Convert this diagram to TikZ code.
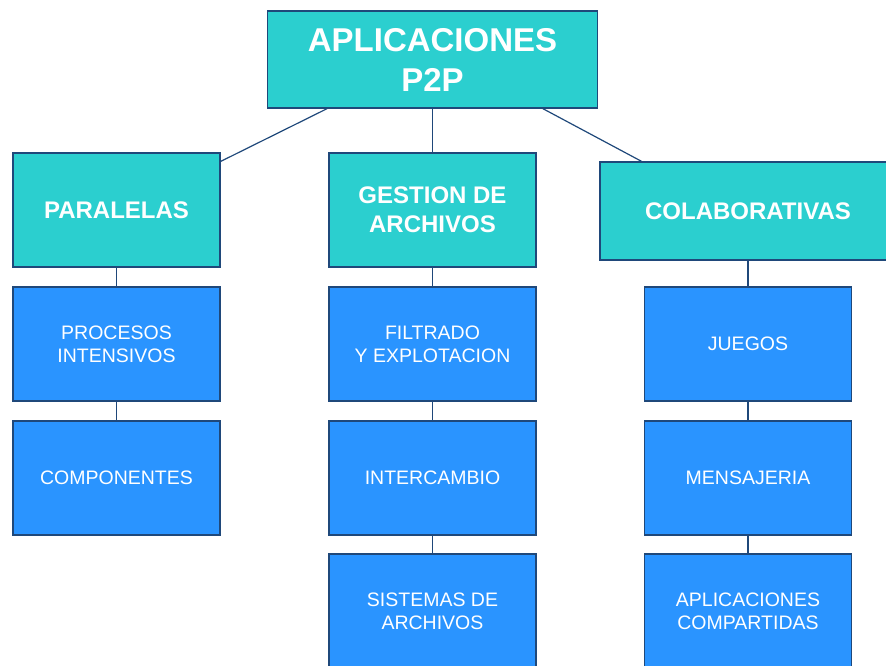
\documentclass[tikz,border=0pt]{standalone}
\usepackage{fontspec}
\setmainfont{Liberation Sans}
\definecolor{tealbox}{RGB}{43,207,207}
\definecolor{bluebox}{RGB}{42,148,255}
\definecolor{edgeline}{RGB}{31,72,122}
\begin{document}
\begin{tikzpicture}
  [x=1pt,y=-1pt,
   box/.style={rectangle,draw=edgeline,line width=1.2pt,text=white,align=center,inner sep=0pt,minimum width=207pt,minimum height=114pt},
   root/.style={box,fill=tealbox,minimum width=330pt,minimum height=97pt,font=\fontsize{33}{40}\selectfont\bfseries},
   group/.style={box,fill=tealbox,font=\fontsize{24}{29}\selectfont\bfseries},
   leaf/.style={box,fill=bluebox,font=\fontsize{19.5}{23}\selectfont}]
  \clip (0,0) rectangle (886,666);
  \node[root] (app) at (432.5,59.5) {APLICACIONES\\P2P};
  \node[group] (par) at (116.5,210) {PARALELAS};
  \node[group] (ges) at (432.5,210) {GESTION DE\\ARCHIVOS};
  \node[group,minimum width=296pt,minimum height=98pt] (col) at (748,211) {COLABORATIVAS};

  \node[leaf] (proc) at (116.5,344) {PROCESOS\\INTENSIVOS};
  \node[leaf] (comp) at (116.5,478) {COMPONENTES};
  \node[leaf] (filt) at (432.5,344) {FILTRADO\\Y EXPLOTACION};
  \node[leaf] (inter) at (432.5,478) {INTERCAMBIO};
  \node[leaf] (sist) at (432.5,611) {SISTEMAS DE\\ARCHIVOS};
  \node[leaf] (jueg) at (748,344) {JUEGOS};
  \node[leaf] (mens) at (748,478) {MENSAJERIA};
  \node[leaf] (compart) at (748,611) {APLICACIONES\\COMPARTIDAS};

  \draw[edgeline,line width=1.2pt] (app.205) -- (par.25);
  \draw[edgeline,line width=1.2pt] (app.-24) -- (col.155);
  \foreach \from/\to in {app/ges,par/proc,proc/comp,ges/filt,filt/inter,inter/sist,col/jueg,jueg/mens,mens/compart}
    \draw[edgeline,line width=1.2pt] (\from.south) -- (\to.north);
\end{tikzpicture}
\end{document}
